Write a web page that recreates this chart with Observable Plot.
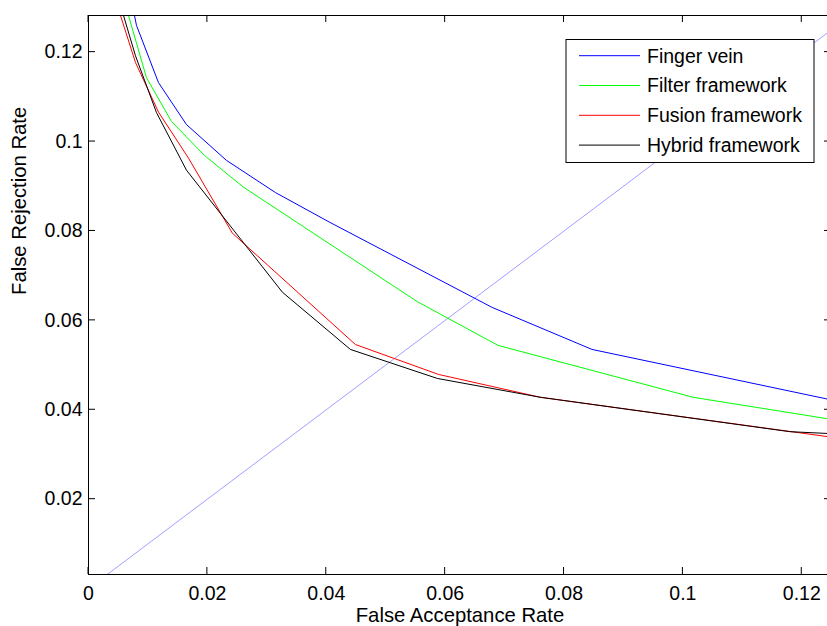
<!DOCTYPE html>
<html>
<head>
<meta charset="utf-8">
<script src="https://cdn.jsdelivr.net/npm/d3@7"></script>
<script src="https://cdn.jsdelivr.net/npm/@observablehq/plot@0.6"></script>
<style>
  html, body { margin: 0; padding: 0; background: #fff; overflow: hidden; }
  #chart { width: 827px; height: 626px; overflow: hidden; }
  #chart svg { max-width: none !important; }
</style>
</head>
<body>
<div id="chart"></div>
<script>
// ---- data ----
const seriesNames = ["Finger vein", "Filter framework", "Fusion framework", "Hybrid framework"];
const seriesColors = ["#0000ff", "#00ff00", "#ff0000", "#000000"];

const fingerFAR = [0.00774, 0.00807, 0.01177, 0.01648, 0.0232, 0.03144, 0.0405, 0.0679, 0.0847, 0.1243];
const fingerFRR = [0.1282, 0.1260, 0.1132, 0.1038, 0.0958, 0.0886, 0.0820, 0.0629, 0.0535, 0.0424];

const filterFAR = [0.00673, 0.00975, 0.01396, 0.0195, 0.02606, 0.0553, 0.0689, 0.1017, 0.1243];
const filterFRR = [0.1282, 0.1143, 0.1045, 0.0969, 0.0898, 0.0642, 0.0544, 0.0428, 0.0380];

const fusionFAR = [0.00538, 0.0079, 0.01177, 0.01682, 0.02421, 0.0449, 0.0589, 0.0760, 0.1243];
const fusionFRR = [0.1282, 0.1177, 0.1066, 0.0963, 0.0795, 0.0546, 0.0479, 0.0428, 0.0340];

const hybridFAR = [0.00589, 0.0079, 0.01143, 0.01648, 0.03262, 0.04406, 0.0587, 0.0760, 0.1180, 0.1243];
const hybridFRR = [0.1282, 0.1192, 0.1065, 0.0936, 0.0663, 0.0535, 0.0470, 0.0428, 0.0351, 0.0347];

// equal error rate reference line (FAR = FRR)
const eerFAR = [0, 0.13];
const eerFRR = [0, 0.13];

const xTicks = [0, 0.02, 0.04, 0.06, 0.08, 0.1, 0.12];
const xTickLabels = ["0", "0.02", "0.04", "0.06", "0.08", "0.1", "0.12"];
const yTicks = [0.02, 0.04, 0.06, 0.08, 0.1, 0.12];
const yTickLabels = ["0.02", "0.04", "0.06", "0.08", "0.1", "0.12"];

const xLabel = "False Acceptance Rate";
const yLabel = "False Rejection Rate";

// ---- build table ----
const allFAR = [fingerFAR, filterFAR, fusionFAR, hybridFAR];
const allFRR = [fingerFRR, filterFRR, fusionFRR, hybridFRR];
const rows = [];
seriesNames.forEach((name, i) => {
  allFAR[i].forEach((v, j) => rows.push({series: name, far: v, frr: allFRR[i][j]}));
});
const eerRows = eerFAR.map((v, i) => ({far: v, frr: eerFRR[i]}));

const FONT = "'Liberation Sans', Arial, Helvetica, sans-serif";
const FS = 19.5;
const FSL = 20.3;

const plot = Plot.plot({
  width: 832,
  height: 626,
  marginLeft: 88,
  marginRight: 1,
  marginTop: 15,
  marginBottom: 52,
  style: {fontFamily: FONT, fontSize: FS + "px", background: "white", color: "black", overflow: "visible", maxWidth: "none"},
  x: {domain: [0, 0.125], label: null},
  y: {domain: [0.00315, 0.1282], label: null},
  color: {domain: seriesNames, range: seriesColors},
  marks: [
    Plot.line(eerRows, {x: "far", y: "frr", stroke: "#a0a0ff", strokeWidth: 1, clip: true}),
    Plot.line(rows, {x: "far", y: "frr", z: "series", stroke: "series", strokeWidth: 1, clip: true}),
    Plot.axisX(xTicks, {anchor: "bottom", tickSize: 0, tickPadding: 12, tickFormat: (d, i) => xTickLabels[i], label: null, fontSize: FS}),
    Plot.axisY(yTicks, {anchor: "left", tickSize: 0, tickPadding: 6, tickFormat: (d, i) => yTickLabels[i], label: null, fontSize: FS}),
    Plot.text([xLabel], {frameAnchor: "bottom", dy: 40.5, text: d => d, lineAnchor: "middle", fontSize: FSL}),
    Plot.text([yLabel], {frameAnchor: "left", dx: -69, rotate: -90, text: d => d, lineAnchor: "middle", fontSize: FSL}),
    Plot.frame({stroke: "black", strokeWidth: 1})
  ]
});
plot.style.maxWidth = "none";
plot.style.width = "832px";
plot.style.height = "626px";

document.getElementById("chart").appendChild(plot);

// inward tick marks on all four sides, positioned with Plot's scales
const sx = plot.scale("x"), sy = plot.scale("y");
const [x0, x1] = sx.range, [y0, y1] = sy.range; // y0 bottom, y1 top
const svg = d3.select(plot);
const TL = 7;
const g = svg.append("g").attr("stroke", "black").attr("stroke-width", 1);
xTicks.forEach(t => {
  const px = sx.apply(t);
  g.append("line").attr("x1", px).attr("x2", px).attr("y1", y0).attr("y2", y0 - TL);
  g.append("line").attr("x1", px).attr("x2", px).attr("y1", y1).attr("y2", y1 + TL);
});
yTicks.forEach(t => {
  const py = sy.apply(t);
  g.append("line").attr("y1", py).attr("y2", py).attr("x1", x0).attr("x2", x0 + TL);
  g.append("line").attr("y1", py).attr("y2", py).attr("x1", x1).attr("x2", x1 - TL);
});

// legend (MATLAB style box, upper right)
const lg = svg.append("g").attr("font-family", FONT).attr("font-size", FS + "px").attr("text-anchor", "start");
const LX = 566, LY = 39.5, LW = 248, LH = 123;
lg.append("rect").attr("x", LX).attr("y", LY).attr("width", LW).attr("height", LH)
  .attr("fill", "white").attr("stroke", "black").attr("stroke-width", 1);
seriesNames.forEach((name, i) => {
  const cy = LY + 16.2 + i * 29.8;
  lg.append("line").attr("x1", LX + 13).attr("x2", LX + 74).attr("y1", cy).attr("y2", cy)
    .attr("stroke", seriesColors[i]).attr("stroke-width", 1);
  lg.append("text").attr("x", LX + 81).attr("y", cy).attr("dy", "0.35em")
    .attr("text-anchor", "start").attr("fill", "black").text(name);
});
</script>
</body>
</html>
